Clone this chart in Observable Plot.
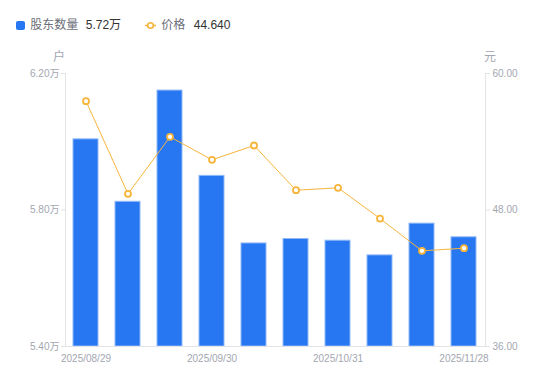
<!DOCTYPE html>
<html>
<head>
<meta charset="utf-8">
<script src="https://cdn.jsdelivr.net/npm/d3@7"></script>
<script src="https://cdn.jsdelivr.net/npm/@observablehq/plot@0.6"></script>
<style>
  html, body { margin: 0; padding: 0; background: #fff; }
  body { font-family: "Liberation Sans", "Noto Sans CJK SC", sans-serif; }
  #wrap { position: relative; width: 550px; height: 381px; overflow: hidden; }
  .abs { position: absolute; white-space: nowrap; }
  .legend { font-size: 12px; line-height: 14px; }
  .unit { font-size: 12px; color: #a3a6b0; line-height: 12px; }
</style>
</head>
<body>
<div id="wrap">
  <div class="abs legend" style="left:16px;top:18px;">
    <span style="display:inline-block;width:9px;height:9px;background:#2777f2;border-radius:2px;vertical-align:-1px;"></span>
    <span style="color:#6b6e78;margin-left:2px;">股东数量</span>
    <span style="color:#333;margin-left:4px;">5.72万</span>
  </div>
  <div class="abs legend" style="left:145px;top:18px;">
    <svg width="11" height="9" style="vertical-align:-1px"><line x1="0" y1="4.5" x2="11" y2="4.5" stroke="#f7b43b" stroke-width="1.5"/><circle cx="5.5" cy="4.5" r="2.8" fill="#fff" stroke="#f7b43b" stroke-width="1.6"/></svg>
    <span style="color:#6b6e78;margin-left:2px;">价格</span>
    <span style="color:#333;margin-left:5px;">44.640</span>
  </div>
  <div class="abs unit" style="left:53px;top:51px;">户</div>
  <div class="abs unit" style="left:484px;top:51px;">元</div>
  <div id="chart" class="abs" style="left:0;top:0;"></div>
</div>
<script>
const dates = ["2025/08/29","2025/09/10","2025/09/19","2025/09/30","2025/10/10","2025/10/20","2025/10/31","2025/11/10","2025/11/20","2025/11/28"];
const holders = [6.007, 5.824, 6.150, 5.900, 5.702, 5.715, 5.710, 5.667, 5.760, 5.720];
const prices = [57.57, 49.42, 54.43, 52.41, 53.67, 49.74, 49.95, 47.25, 44.41, 44.64];
const xTicks = ["2025/08/29","2025/09/30","2025/10/31","2025/11/28"];
const leftTicks = [5.40, 5.80, 6.20];
const rightTicks = [36, 48, 60];
const yDomain = [5.40, 6.20];
const priceDomain = [36, 60];

const toY = p => yDomain[0] + (p - priceDomain[0]) / (priceDomain[1] - priceDomain[0]) * (yDomain[1] - yDomain[0]);
const fromY = y => priceDomain[0] + (y - yDomain[0]) / (yDomain[1] - yDomain[0]) * (priceDomain[1] - priceDomain[0]);

const data = dates.map((d, i) => ({date: d, holders: holders[i], price: prices[i], py: toY(prices[i])}));

const axisColor = "#e2e3e6";
const labelColor = "#a3a6b0";

const chart = Plot.plot({
  width: 550,
  height: 381,
  marginTop: 73,
  marginBottom: 35,
  marginLeft: 65,
  marginRight: 65,
  style: {fontFamily: "'Liberation Sans', 'Noto Sans CJK SC', sans-serif", fontSize: "10px", background: "transparent"},
  x: {type: "band", domain: dates, paddingInner: 0.4, paddingOuter: 0.2},
  y: {domain: yDomain},
  marks: [
    Plot.barY(data, {x: "date", y1: () => yDomain[0], y2: "holders", fill: "#2777f2", stroke: "#8fb8f7", strokeWidth: 1}),
    Plot.ruleY([yDomain[0]], {stroke: axisColor, strokeWidth: 1}),
    Plot.axisY({anchor: "left", ticks: leftTicks, tickFormat: d => d.toFixed(2) + "万", tickSize: 4, tickPadding: 2, stroke: axisColor, color: labelColor, label: null}),
    Plot.axisY({anchor: "right", ticks: rightTicks.map(toY), tickFormat: d => fromY(d).toFixed(2), tickSize: 4, tickPadding: 3, stroke: axisColor, color: labelColor, label: null}),
    Plot.axisX({ticks: xTicks, tickSize: 0, tickPadding: 8, color: labelColor, label: null}),
    Plot.frame({anchor: "left", stroke: axisColor}),
    Plot.frame({anchor: "right", stroke: axisColor}),
    Plot.line(data, {x: "date", y: "py", stroke: "#f7b43b", strokeWidth: 1}),
    Plot.dot(data, {x: "date", y: "py", r: 3, fill: "#fff", stroke: "#f7b43b", strokeWidth: 1.8})
  ]
});
document.getElementById("chart").appendChild(chart);
</script>
</body>
</html>
